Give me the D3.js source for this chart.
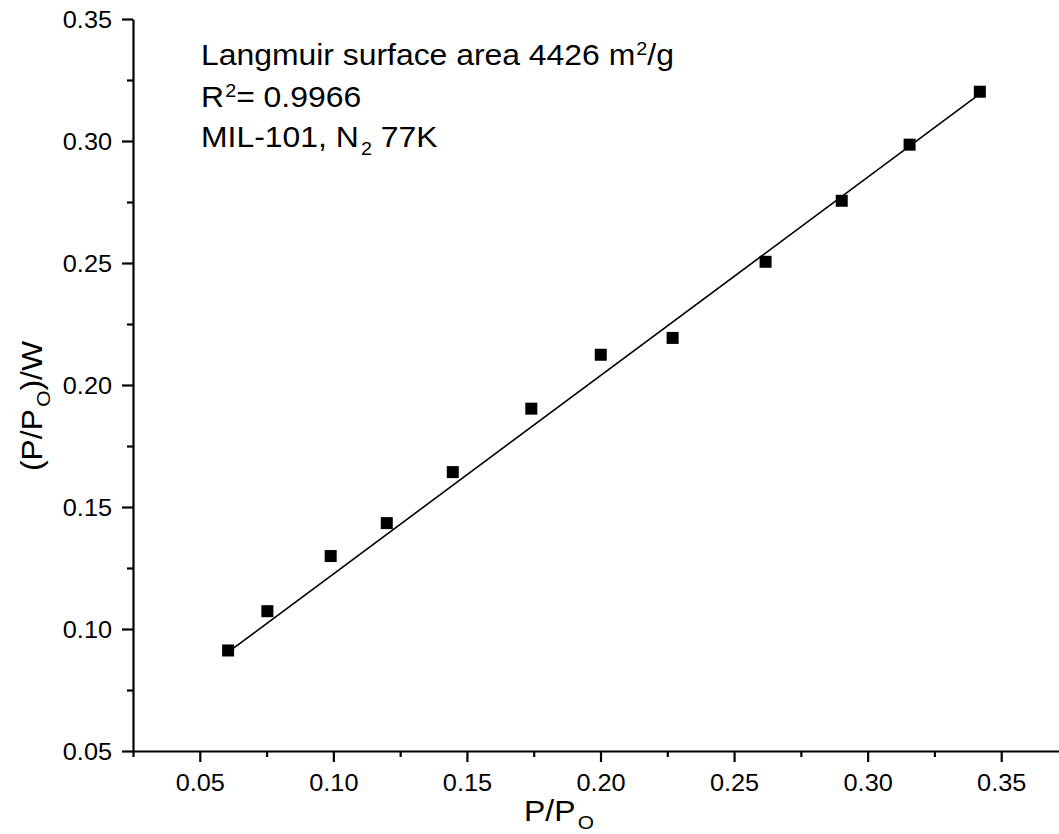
<!DOCTYPE html>
<html>
  <head>
    <script src="https://d3js.org/d3.v7.min.js" charset="utf-8"></script>
    <style>
      body { margin: 0; background: #fff; }
      text { font-family: Arial, "Liberation Sans", sans-serif; fill: #000; }
    </style>
  </head>
  <body>
    <svg id="chart"></svg>
    <script>
      // data
      const ppo = [0.0606, 0.0753, 0.0990, 0.1200, 0.1447, 0.1741, 0.2001, 0.2270, 0.2618, 0.2903, 0.3157, 0.3420]
      const ppoW = [0.0912, 0.1073, 0.1299, 0.1434, 0.1643, 0.1903, 0.2124, 0.2193, 0.2505, 0.2755, 0.2985, 0.3202]
      const fitX = [0.0606, 0.3420]
      const fitY = [0.0905, 0.3193]
      const xTicks = [0.05, 0.10, 0.15, 0.20, 0.25, 0.30, 0.35]
      const yTicks = [0.05, 0.10, 0.15, 0.20, 0.25, 0.30, 0.35]
      const xMinor = [0.025, 0.075, 0.125, 0.175, 0.225, 0.275, 0.325, 0.375]
      const yMinor = [0.075, 0.125, 0.175, 0.225, 0.275, 0.325]

      const W = 1059, H = 834
      const margin = {top: 19, right: -9, bottom: 83, left: 133}
      const stretch = 1.1  // the original text is a bit wide

      const svg = d3.select("#chart").attr("width", W).attr("height", H)

      var x = d3.scaleLinear().domain([0.025, 0.375]).range([margin.left, W - margin.right])
      var y = d3.scaleLinear().domain([0.05, 0.35]).range([H - margin.bottom, margin.top])

      // minor ticks first, then major axis on top
      svg.append("g").attr("transform", `translate(0,${y(0.05)})`)
        .call(d3.axisBottom(x).tickValues(xMinor).tickSize(6).tickFormat(""))
        .call(g => g.select(".domain").remove())
      svg.append("g").attr("transform", `translate(${x(0.025)},0)`)
        .call(d3.axisLeft(y).tickValues(yMinor).tickSize(6).tickFormat(""))
        .call(g => g.select(".domain").remove())

      var xAxis = svg.append("g").attr("transform", `translate(0,${y(0.05)})`)
        .call(d3.axisBottom(x).tickValues(xTicks).tickSize(11).tickSizeOuter(0).tickFormat(d3.format(".2f")))
      var yAxis = svg.append("g").attr("transform", `translate(${x(0.025)},0)`)
        .call(d3.axisLeft(y).tickValues(yTicks).tickSize(11).tickSizeOuter(0).tickFormat(d3.format(".2f")))

      svg.selectAll(".tick line").attr("stroke", "#000").attr("stroke-width", 2.2)
      svg.selectAll(".domain").attr("stroke", "#000").attr("stroke-width", 2.2)

      xAxis.selectAll("text")
        .attr("y", 0).attr("dy", null)
        .attr("transform", `translate(0,40) scale(${stretch},1)`)
        .style("font-size", "23px")
      yAxis.selectAll("text")
        .attr("x", 0).attr("dy", "0.35em")
        .attr("transform", `translate(-21,0) scale(${stretch},1)`)
        .style("font-size", "23px")

      // fit line
      svg.append("line")
        .attr("x1", x(fitX[0])).attr("y1", y(fitY[0]))
        .attr("x2", x(fitX[1])).attr("y2", y(fitY[1]))
        .attr("stroke", "#000").attr("stroke-width", 1.6)

      // squares
      const sq = 12
      svg.append("g").selectAll("rect")
        .data(ppo.map((d, i) => [d, ppoW[i]]))
        .enter()
        .append("rect")
        .attr("x", d => x(d[0]) - sq / 2)
        .attr("y", d => y(d[1]) - sq / 2)
        .attr("width", sq).attr("height", sq)
        .attr("fill", "#000")

      // axis titles
      var xt = svg.append("text")
        .attr("transform", `translate(559,821) scale(${stretch},1)`)
        .attr("text-anchor", "middle")
        .style("font-size", "29px")
      xt.append("tspan").text("P/P")
      xt.append("tspan").attr("dx", 2).attr("dy", "0.4em").style("font-size", "19px").text("O")

      var yt = svg.append("text")
        .attr("transform", `translate(42,406) rotate(-90) scale(${stretch},1)`)
        .attr("text-anchor", "middle")
        .style("font-size", "29px")
      yt.append("tspan").text("(P/P")
      yt.append("tspan").attr("dx", 2).attr("dy", "0.4em").style("font-size", "19px").text("O")
      yt.append("tspan").attr("dy", "-0.25em").text(")/W")

      // annotation
      const note = svg.append("g").attr("transform", `translate(201,0) scale(${stretch},1)`)
      var l1 = note.append("text").attr("y", 65).style("font-size", "29px")
      l1.append("tspan").text("Langmuir surface area 4426 m")
      l1.append("tspan").attr("dx", 1).attr("dy", "-0.55em").style("font-size", "18px").text("2")
      l1.append("tspan").attr("dy", "0.34em").text("/g")
      var l2 = note.append("text").attr("y", 107).style("font-size", "29px")
      l2.append("tspan").text("R")
      l2.append("tspan").attr("dx", 1).attr("dy", "-0.55em").style("font-size", "18px").text("2")
      l2.append("tspan").attr("dy", "0.34em").text("= 0.9966")
      var l3 = note.append("text").attr("y", 147).style("font-size", "29px")
      l3.append("tspan").text("MIL-101, N")
      l3.append("tspan").attr("dx", 2).attr("dy", "0.45em").style("font-size", "18px").text("2")
      l3.append("tspan").attr("dy", "-0.28em").text(" 77K")
    </script>
  </body>
</html>
